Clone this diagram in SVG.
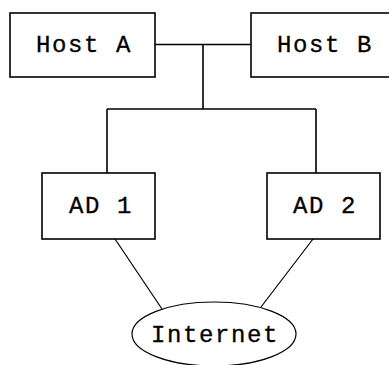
<svg xmlns="http://www.w3.org/2000/svg" width="389" height="365" viewBox="0 0 389 365">
  <style>
    .box { fill: #fff; stroke: #000; stroke-width: 1.6; }
    .net { fill: #fff; stroke: #000; stroke-width: 1.2; }
    .wire { fill: none; stroke: #000; stroke-width: 1.6; }
    .link { fill: none; stroke: #000; stroke-width: 1.2; }
    .label { font-family: "Liberation Mono", "Courier New", monospace; font-size: 24px; letter-spacing: 1.6px; fill: #000; stroke: #000; stroke-width: 0.3; }
  </style>
  <rect width="389" height="365" fill="#fff"/>

  <!-- connectors -->
  <g id="connectors">
    <path class="wire" d="M155 44.5 H251 M203 44.5 V109 M107 109 H316 M107 109 V173 M316 109 V173"/>
    <path class="link" d="M115 239 L162 309 M313 239 L261 307"/>
  </g>

  <g id="host-a">
    <rect class="box" x="10" y="13" width="145" height="64"/>
    <text class="label" x="36" y="52">Host A</text>
  </g>

  <g id="host-b">
    <rect class="box" x="251" y="13" width="150" height="64"/>
    <text class="label" x="277" y="52">Host B</text>
  </g>

  <g id="ad-1">
    <rect class="box" x="42" y="173" width="113" height="66"/>
    <text class="label" x="69" y="213">AD 1</text>
  </g>

  <g id="ad-2">
    <rect class="box" x="267" y="173" width="113" height="66"/>
    <text class="label" x="293" y="213">AD 2</text>
  </g>

  <g id="internet">
    <ellipse class="net" cx="214" cy="334" rx="82" ry="32"/>
    <text class="label" x="151" y="342">Internet</text>
  </g>
</svg>
